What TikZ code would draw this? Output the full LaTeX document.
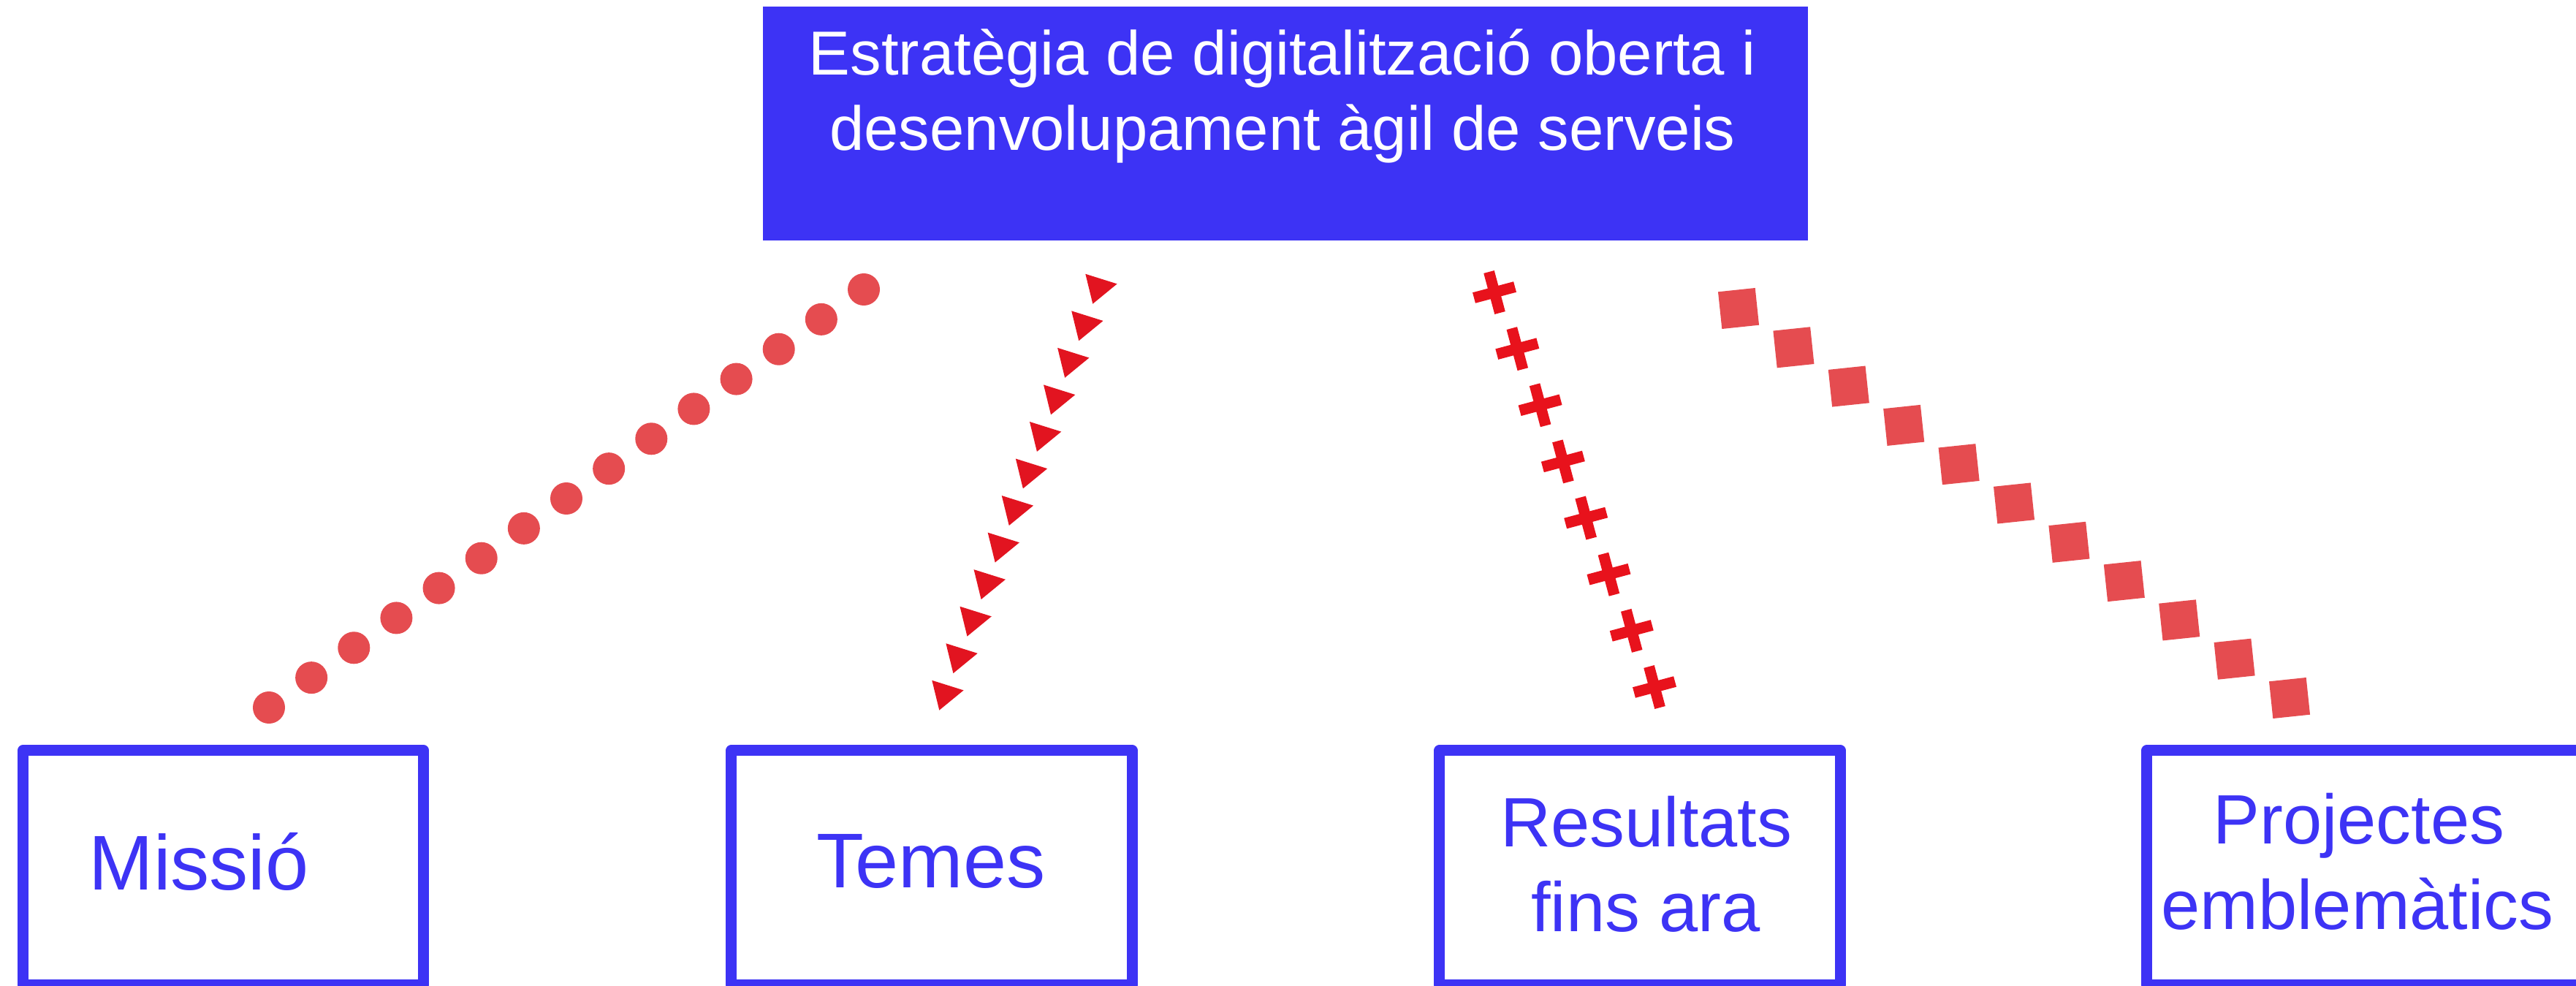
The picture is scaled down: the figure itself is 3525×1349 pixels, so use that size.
\documentclass[tikz,border=0pt]{standalone}
\usepackage{fontspec}
\setmainfont{Liberation Sans}
\usetikzlibrary{calc}
\definecolor{boxblue}{RGB}{61,51,245}
\definecolor{dotred}{RGB}{229,76,80}
\definecolor{trired}{RGB}{226,20,32}
\definecolor{crossred}{RGB}{232,18,28}
\begin{document}
\begin{tikzpicture}[x=0.01cm,y=-0.01cm,
  topbox/.style={rectangle, fill=boxblue, inner sep=0pt, minimum width=14.30cm, minimum height=3.20cm},
  topline/.style={anchor=base, inner sep=0pt, text=white, font=\fontsize{24.2pt}{29pt}\selectfont},
  subbox/.style={rectangle, draw=boxblue, line width=0.15cm, line join=round, inner sep=0pt, minimum width=5.48cm, minimum height=3.20cm},
  bigline/.style={anchor=base, inner sep=0pt, text=boxblue, font=\fontsize{30.2pt}{36pt}\selectfont},
  midline/.style={anchor=base, inner sep=0pt, text=boxblue, font=\fontsize{27.2pt}{33pt}\selectfont},
  dotmark/.style={fill=dotred},
  trimark/.style={fill=trired},
  crossmark/.style={fill=crossred},
  sqmark/.style={fill=dotred}]
\useasboundingbox (0,0) rectangle (3525,1349);
\clip (0,0) rectangle (3525,1349);

% top box
\node[topbox] (top) at (1759,169) {};
\node[topline] (topl1) at (1755,103) {Estratègia de digitalització oberta i};
\node[topline] (topl2) at (1755,206) {desenvolupament àgil de serveis};

% bottom boxes
\node[subbox] (missio) at (305.5,1187) {};
\node[bigline] (missiot) at (272,1217) {Missió};
\node[subbox] (temes) at (1275,1187) {};
\node[bigline] (temest) at (1274,1214) {Temes};
\node[subbox] (result) at (2244,1187) {};
\node[midline] (resultt1) at (2253,1158) {Resultats};
\node[midline] (resultt2) at (2252,1274) {fins ara};
\node[subbox, minimum width=6.07cm] (proj) at (3241.5,1187) {};
\node[midline] (projt1) at (3228,1154) {Projectes};
\node[midline] (projt2) at (3226,1271) {emblemàtics};

% connector end points
\coordinate (c1s) at (368,968);
\coordinate (c1e) at (1182,396);
\coordinate (c2s) at (1293,949);
\coordinate (c2e) at (1503,393);
\coordinate (c3s) at (2045,400);
\coordinate (c3e) at (2264,940);
\coordinate (c4s) at (2379,422);
\coordinate (c4e) at (3133,955);

% circles
\foreach \i in {0,...,14}
  \fill[dotmark] ($(c1s)!\i/14!(c1e)$) circle (0.22cm);

% triangles
\foreach \i in {0,...,11}
  \fill[trimark] ($(c2s)!\i/11!(c2e)$) ++(25.6,-4.6) -- ++(-43.3,-13.6) -- ++(10,40.9) -- cycle;

% crosses
\foreach \i in {0,...,7}
  \fill[crossmark, shift={($(c3s)!\i/7!(c3e)$)}, rotate=15]
    (-29,-7.5) rectangle (29,7.5) (-7.5,-29) rectangle (7.5,29);

% squares
\foreach \i in {0,...,10}
  \fill[sqmark, shift={($(c4s)!\i/10!(c4e)$)}, rotate=6]
    (-25.5,-25.5) rectangle (25.5,25.5);
\end{tikzpicture}
\end{document}
